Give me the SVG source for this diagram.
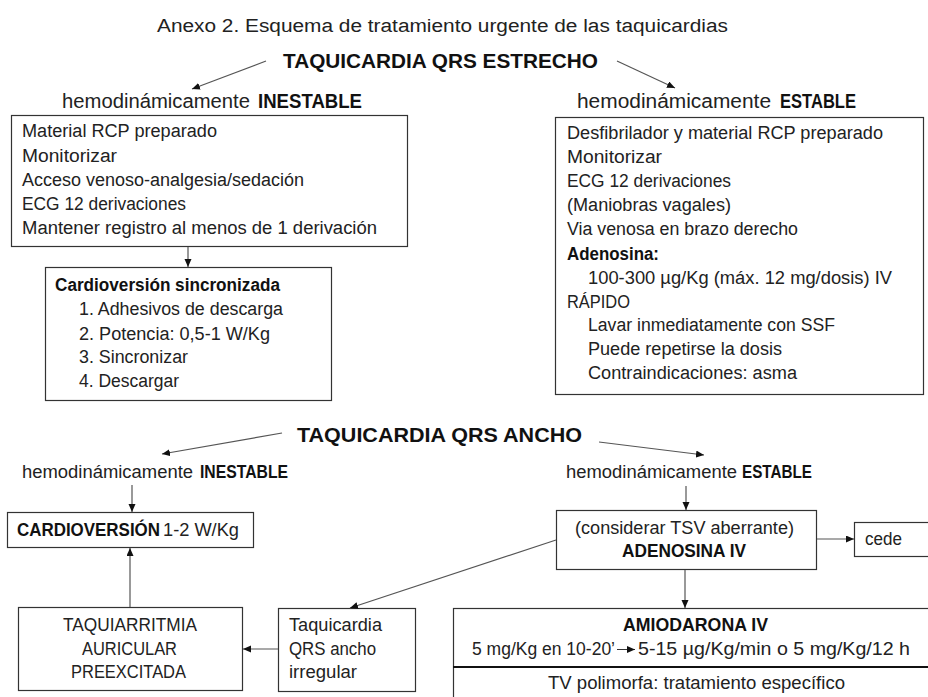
<svg xmlns="http://www.w3.org/2000/svg" width="928" height="697" viewBox="0 0 928 697">
<style>
text{font-family:"Liberation Sans",Arial,sans-serif;fill:#222;}
.b{font-weight:bold;fill:#111;}
.t{font-size:18px;}
.s{font-size:17.5px;}
.box{fill:#fff;stroke:#333;stroke-width:1.2;}
.c line{stroke:#555;stroke-width:1.2;marker-end:url(#ah);}
</style>
<defs>
<marker id="ah" markerUnits="userSpaceOnUse" markerWidth="9" markerHeight="8" refX="8" refY="3.5" orient="auto">
<path d="M0,0 L8,3.5 L0,7 z" fill="#111"/>
</marker>
</defs>
<rect width="928" height="697" fill="#fff"/>
<text x="157" y="32" font-size="18" textLength="571" lengthAdjust="spacingAndGlyphs">Anexo 2. Esquema de tratamiento urgente  de las taquicardias</text>
<g id="estrecho">
<text class="b" x="283" y="68" font-size="21" textLength="315" lengthAdjust="spacingAndGlyphs">TAQUICARDIA QRS ESTRECHO</text>
</g>
<g id="inestable1">
<text x="62" y="108" font-size="20" textLength="188" lengthAdjust="spacingAndGlyphs">hemodinámicamente</text>
<text class="b" x="258" y="108" font-size="20" textLength="104" lengthAdjust="spacingAndGlyphs">INESTABLE</text>
</g>
<g id="estable1">
<text x="577" y="108" font-size="20" textLength="194" lengthAdjust="spacingAndGlyphs">hemodinámicamente</text>
<text class="b" x="780" y="108" font-size="20" textLength="76" lengthAdjust="spacingAndGlyphs">ESTABLE</text>
</g>
<g id="box1">
<rect class="box" x="11.5" y="115.5" width="396" height="131"/>
<text class="t" x="22" y="137" textLength="195" lengthAdjust="spacingAndGlyphs">Material RCP preparado</text>
<text class="t" x="22" y="162" textLength="95" lengthAdjust="spacingAndGlyphs">Monitorizar</text>
<text class="t" x="22" y="186" textLength="282" lengthAdjust="spacingAndGlyphs">Acceso venoso-analgesia/sedación</text>
<text class="t" x="22" y="210" textLength="164" lengthAdjust="spacingAndGlyphs">ECG 12 derivaciones</text>
<text class="t" x="22" y="234" textLength="355" lengthAdjust="spacingAndGlyphs">Mantener registro al menos de 1 derivación</text>
</g>
<g id="box2">
<rect class="box" x="45.5" y="267.5" width="286" height="133"/>
<text class="t b" x="55" y="291" textLength="225" lengthAdjust="spacingAndGlyphs">Cardioversión sincronizada</text>
<text class="t" x="79" y="315" textLength="204" lengthAdjust="spacingAndGlyphs">1. Adhesivos de descarga</text>
<text class="t" x="79" y="340" textLength="191" lengthAdjust="spacingAndGlyphs">2. Potencia: 0,5-1 W/Kg</text>
<text class="t" x="79" y="363" textLength="109" lengthAdjust="spacingAndGlyphs">3. Sincronizar</text>
<text class="t" x="79" y="387" textLength="100" lengthAdjust="spacingAndGlyphs">4. Descargar</text>
</g>
<g id="box3">
<rect class="box" x="555.5" y="117.5" width="368" height="277"/>
<text class="t" x="567" y="139" textLength="316" lengthAdjust="spacingAndGlyphs">Desfibrilador y material RCP preparado</text>
<text class="t" x="567" y="163" textLength="95" lengthAdjust="spacingAndGlyphs">Monitorizar</text>
<text class="t" x="567" y="187" textLength="164" lengthAdjust="spacingAndGlyphs">ECG 12 derivaciones</text>
<text class="t" x="567" y="211" textLength="164" lengthAdjust="spacingAndGlyphs">(Maniobras vagales)</text>
<text class="t" x="567" y="235" textLength="231" lengthAdjust="spacingAndGlyphs">Via venosa en brazo derecho</text>
<text class="t b" x="567" y="260" textLength="92" lengthAdjust="spacingAndGlyphs">Adenosina:</text>
<text class="t" x="588" y="284" textLength="304" lengthAdjust="spacingAndGlyphs">100-300 µg/Kg (máx. 12 mg/dosis) IV</text>
<text class="t" x="567" y="308" textLength="63" lengthAdjust="spacingAndGlyphs">RÁPIDO</text>
<text class="t" x="588" y="331" textLength="247" lengthAdjust="spacingAndGlyphs">Lavar inmediatamente con SSF</text>
<text class="t" x="588" y="355" textLength="194" lengthAdjust="spacingAndGlyphs">Puede repetirse la dosis</text>
<text class="t" x="588" y="379" textLength="209" lengthAdjust="spacingAndGlyphs">Contraindicaciones: asma</text>
</g>
<g id="ancho">
<text class="b" x="297" y="442" font-size="21" textLength="285" lengthAdjust="spacingAndGlyphs">TAQUICARDIA QRS ANCHO</text>
</g>
<g id="inestable2">
<text class="s" x="22" y="478" textLength="171" lengthAdjust="spacingAndGlyphs">hemodinámicamente</text>
<text class="s b" x="200" y="478" textLength="88" lengthAdjust="spacingAndGlyphs">INESTABLE</text>
</g>
<g id="estable2">
<text class="s" x="566" y="478" textLength="171" lengthAdjust="spacingAndGlyphs">hemodinámicamente</text>
<text class="s b" x="742" y="478" textLength="70" lengthAdjust="spacingAndGlyphs">ESTABLE</text>
</g>
<g id="cardioversion">
<rect class="box" x="7.5" y="512.5" width="246" height="35"/>
<text class="s b" x="17" y="536" textLength="143" lengthAdjust="spacingAndGlyphs">CARDIOVERSIÓN</text>
<text class="s" x="163" y="536" textLength="76" lengthAdjust="spacingAndGlyphs">1-2 W/Kg</text>
</g>
<g id="adenosina">
<rect class="box" x="556.5" y="510.5" width="260" height="59"/>
<text class="s" x="575" y="534" textLength="219" lengthAdjust="spacingAndGlyphs">(considerar TSV aberrante)</text>
<text class="s b" x="622" y="557" textLength="124" lengthAdjust="spacingAndGlyphs">ADENOSINA IV</text>
</g>
<g id="cede">
<rect class="box" x="854.5" y="522.5" width="90" height="34"/>
<text class="s" x="865" y="545" textLength="37" lengthAdjust="spacingAndGlyphs">cede</text>
</g>
<g id="taquiarritmia">
<rect class="box" x="18.5" y="607.5" width="224" height="83"/>
<text class="s" x="63" y="631" textLength="134" lengthAdjust="spacingAndGlyphs">TAQUIARRITMIA</text>
<text class="s" x="82" y="655" textLength="95" lengthAdjust="spacingAndGlyphs">AURICULAR</text>
<text class="s" x="71" y="678" textLength="115" lengthAdjust="spacingAndGlyphs">PREEXCITADA</text>
</g>
<g id="irregular">
<rect class="box" x="278.5" y="608.5" width="137" height="83"/>
<text class="s" x="289" y="631" textLength="93" lengthAdjust="spacingAndGlyphs">Taquicardia</text>
<text class="s" x="289" y="655" textLength="87" lengthAdjust="spacingAndGlyphs">QRS ancho</text>
<text class="s" x="289" y="678" textLength="68" lengthAdjust="spacingAndGlyphs">irregular</text>
</g>
<g id="amiodarona">
<rect class="box" x="453.5" y="608.5" width="490" height="110"/>
<line x1="453" y1="667" x2="928" y2="667" stroke="#111" stroke-width="2"/>
<text class="s b" x="623" y="631" textLength="145" lengthAdjust="spacingAndGlyphs">AMIODARONA IV</text>
<text class="s" x="472" y="655">5 mg/Kg en 10-20’</text>
<line x1="617" y1="649.5" x2="635" y2="649.5" stroke="#333" stroke-width="1" marker-end="url(#ah)"/>
<text class="s" x="638" y="655" textLength="272" lengthAdjust="spacingAndGlyphs">5-15 µg/Kg/min o 5 mg/Kg/12 h</text>
<text class="s" x="548" y="689" textLength="297" lengthAdjust="spacingAndGlyphs">TV polimorfa: tratamiento específico</text>
</g>
<g id="connectors" class="c">
<line x1="266" y1="61" x2="192" y2="89"/>
<line x1="617" y1="61" x2="675" y2="88"/>
<line x1="188" y1="247" x2="188" y2="267"/>
<line x1="282" y1="433" x2="162" y2="454"/>
<line x1="599" y1="442" x2="704" y2="455"/>
<line x1="132" y1="485" x2="132" y2="512"/>
<line x1="686" y1="486" x2="686" y2="510"/>
<line x1="130" y1="607" x2="130" y2="548"/>
<line x1="817" y1="539" x2="854" y2="539"/>
<line x1="556" y1="540" x2="350" y2="608"/>
<line x1="278" y1="649" x2="243" y2="649"/>
<line x1="685" y1="570" x2="685" y2="608"/>
</g>
</svg>
